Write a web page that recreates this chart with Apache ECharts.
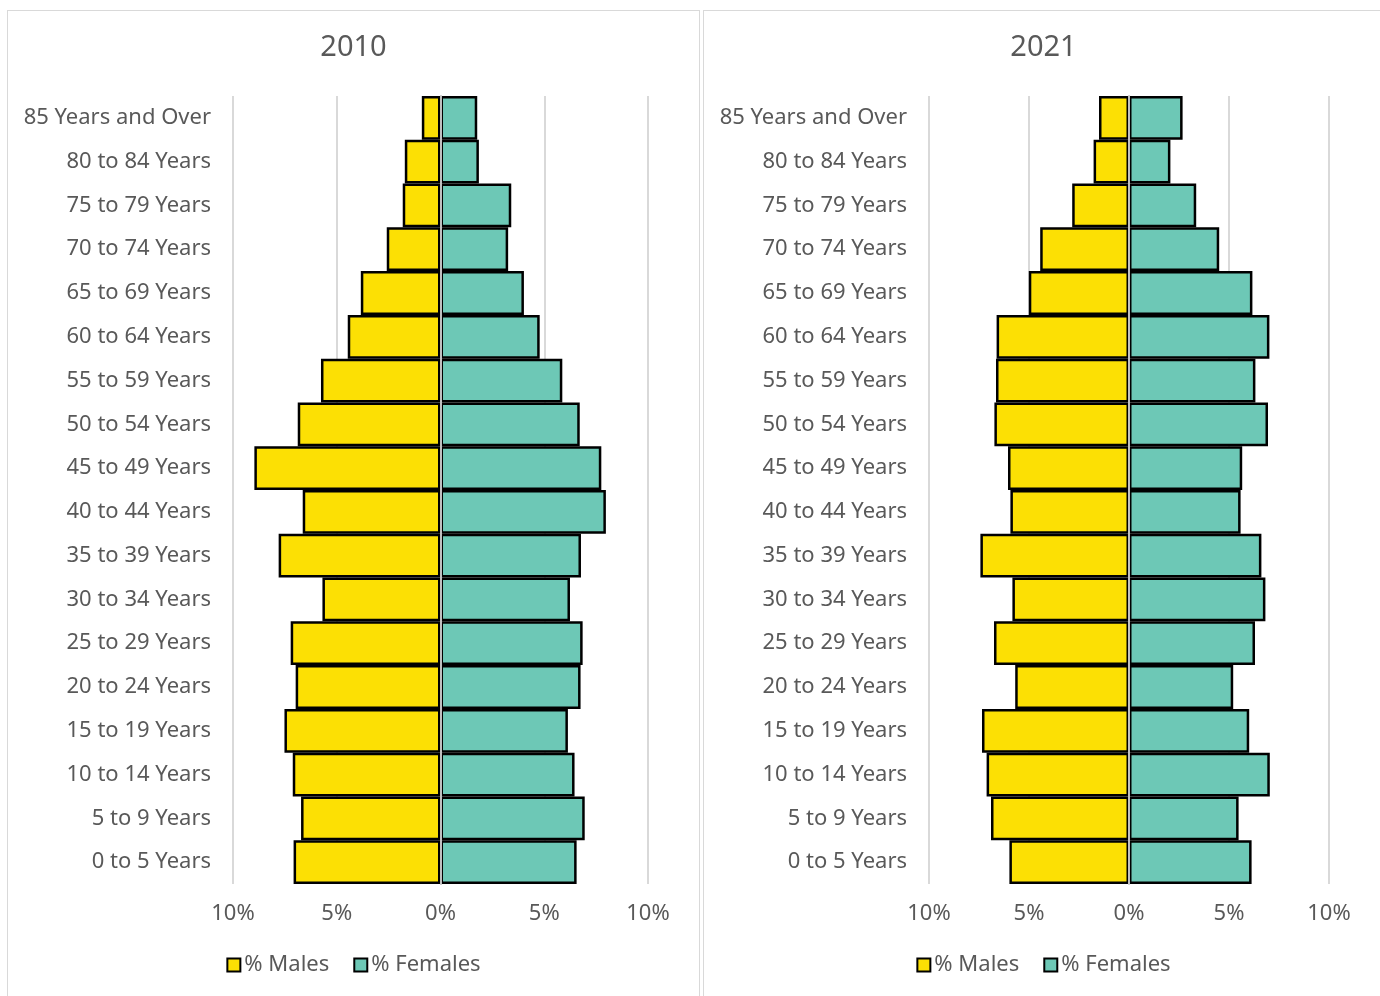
<!DOCTYPE html>
<html>
<head>
<meta charset="utf-8">
<title>Population pyramids 2010 / 2021</title>
<script src="https://cdn.jsdelivr.net/npm/echarts@6/dist/echarts.min.js"></script>
<style>
  html, body { margin: 0; padding: 0; width: 1380px; height: 996px; overflow: hidden; background: #fff; }
  .panel { position: absolute; top: 10px; height: 1000px; border: 1px solid #d9d9d9; }
  #left { left: 7px; width: 691px; }
  #right { left: 703px; width: 679px; }
</style>
</head>
<body>
<div id="left" class="panel"></div>
<div id="right" class="panel"></div>
<script>
// age groups, youngest first (bottom of the pyramid)
var ageGroups = ["0 to 5 Years", "5 to 9 Years", "10 to 14 Years", "15 to 19 Years",
  "20 to 24 Years", "25 to 29 Years", "30 to 34 Years", "35 to 39 Years", "40 to 44 Years",
  "45 to 49 Years", "50 to 54 Years", "55 to 59 Years", "60 to 64 Years", "65 to 69 Years",
  "70 to 74 Years", "75 to 79 Years", "80 to 84 Years", "85 Years and Over"];

// share of population in %, same order as ageGroups
var males2010 = [7.08, 6.72, 7.12, 7.52, 6.98, 7.22, 5.69, 7.80, 6.64, 8.97, 6.88, 5.76, 4.47, 3.84, 2.59, 1.82, 1.72, 0.90];
var females2010 = [6.56, 6.95, 6.46, 6.14, 6.75, 6.85, 6.24, 6.77, 7.97, 7.75, 6.71, 5.87, 4.78, 4.02, 3.26, 3.41, 1.85, 1.77];
var males2021 = [5.98, 6.90, 7.12, 7.35, 5.69, 6.75, 5.83, 7.43, 5.93, 6.05, 6.73, 6.65, 6.62, 5.01, 4.44, 2.84, 1.77, 1.50];
var females2021 = [6.13, 5.48, 7.04, 6.01, 5.21, 6.30, 6.82, 6.62, 5.58, 5.66, 6.95, 6.32, 7.02, 6.17, 4.51, 3.36, 2.07, 2.68];

var xTicks = { min: -10, max: 10, step: 5 };
var seriesNames = ["% Males", "% Females"];

var textColor = "#595959";
var fontFam = "'Noto Sans', 'Liberation Sans', sans-serif";

function makeOption(title, males, females, gridWidth) {
  return {
    animation: false,
    textStyle: { fontFamily: fontFam },
    title: {
      text: title,
      left: "center",
      top: 17,
      textStyle: { color: textColor, fontSize: 29, fontWeight: "normal", fontFamily: fontFam }
    },
    legend: {
      bottom: 30,
      left: "center",
      icon: "rect",
      itemWidth: 13,
      itemHeight: 13,
      itemGap: 24,
      data: seriesNames,
      textStyle: { color: textColor, fontSize: 22, fontFamily: fontFam, padding: [0, 0, 0, -1] }
    },
    grid: { left: 225, top: 85, width: gridWidth, height: 788, containLabel: false },
    xAxis: {
      type: "value",
      min: xTicks.min,
      max: xTicks.max,
      interval: xTicks.step,
      axisLine: { show: false },
      axisTick: { show: false },
      splitLine: { lineStyle: { color: "#d9d9d9", width: 2 } },
      axisLabel: {
        color: textColor,
        fontSize: 22,
        margin: 19,
        fontFamily: fontFam,
        formatter: function(v) { return Math.abs(v) + "%"; }
      }
    },
    yAxis: {
      type: "category",
      data: ageGroups,
      z: 5,
      axisLine: { show: true, onZero: true, lineStyle: { color: "#bfbfbf", width: 2 } },
      axisTick: { show: false },
      axisLabel: { color: textColor, fontSize: 22, margin: 22, fontFamily: fontFam, align: "right" }
    },
    series: [
      {
        name: seriesNames[0],
        type: "bar",
        barCategoryGap: "0%",
        barGap: "-100%",
        itemStyle: { color: "#fce004", borderColor: "#000", borderWidth: 2.5 },
        data: males.map(function(v) { return -v; })
      },
      {
        name: seriesNames[1],
        type: "bar",
        barCategoryGap: "0%",
        barGap: "-100%",
        itemStyle: { color: "#6dc8b6", borderColor: "#000", borderWidth: 2.5 },
        data: females
      }
    ]
  };
}

var leftChart = echarts.init(document.getElementById("left"));
leftChart.setOption(makeOption("2010", males2010, females2010, 415));

var rightChart = echarts.init(document.getElementById("right"));
rightChart.setOption(makeOption("2021", males2021, females2021, 400));
</script>
</body>
</html>
